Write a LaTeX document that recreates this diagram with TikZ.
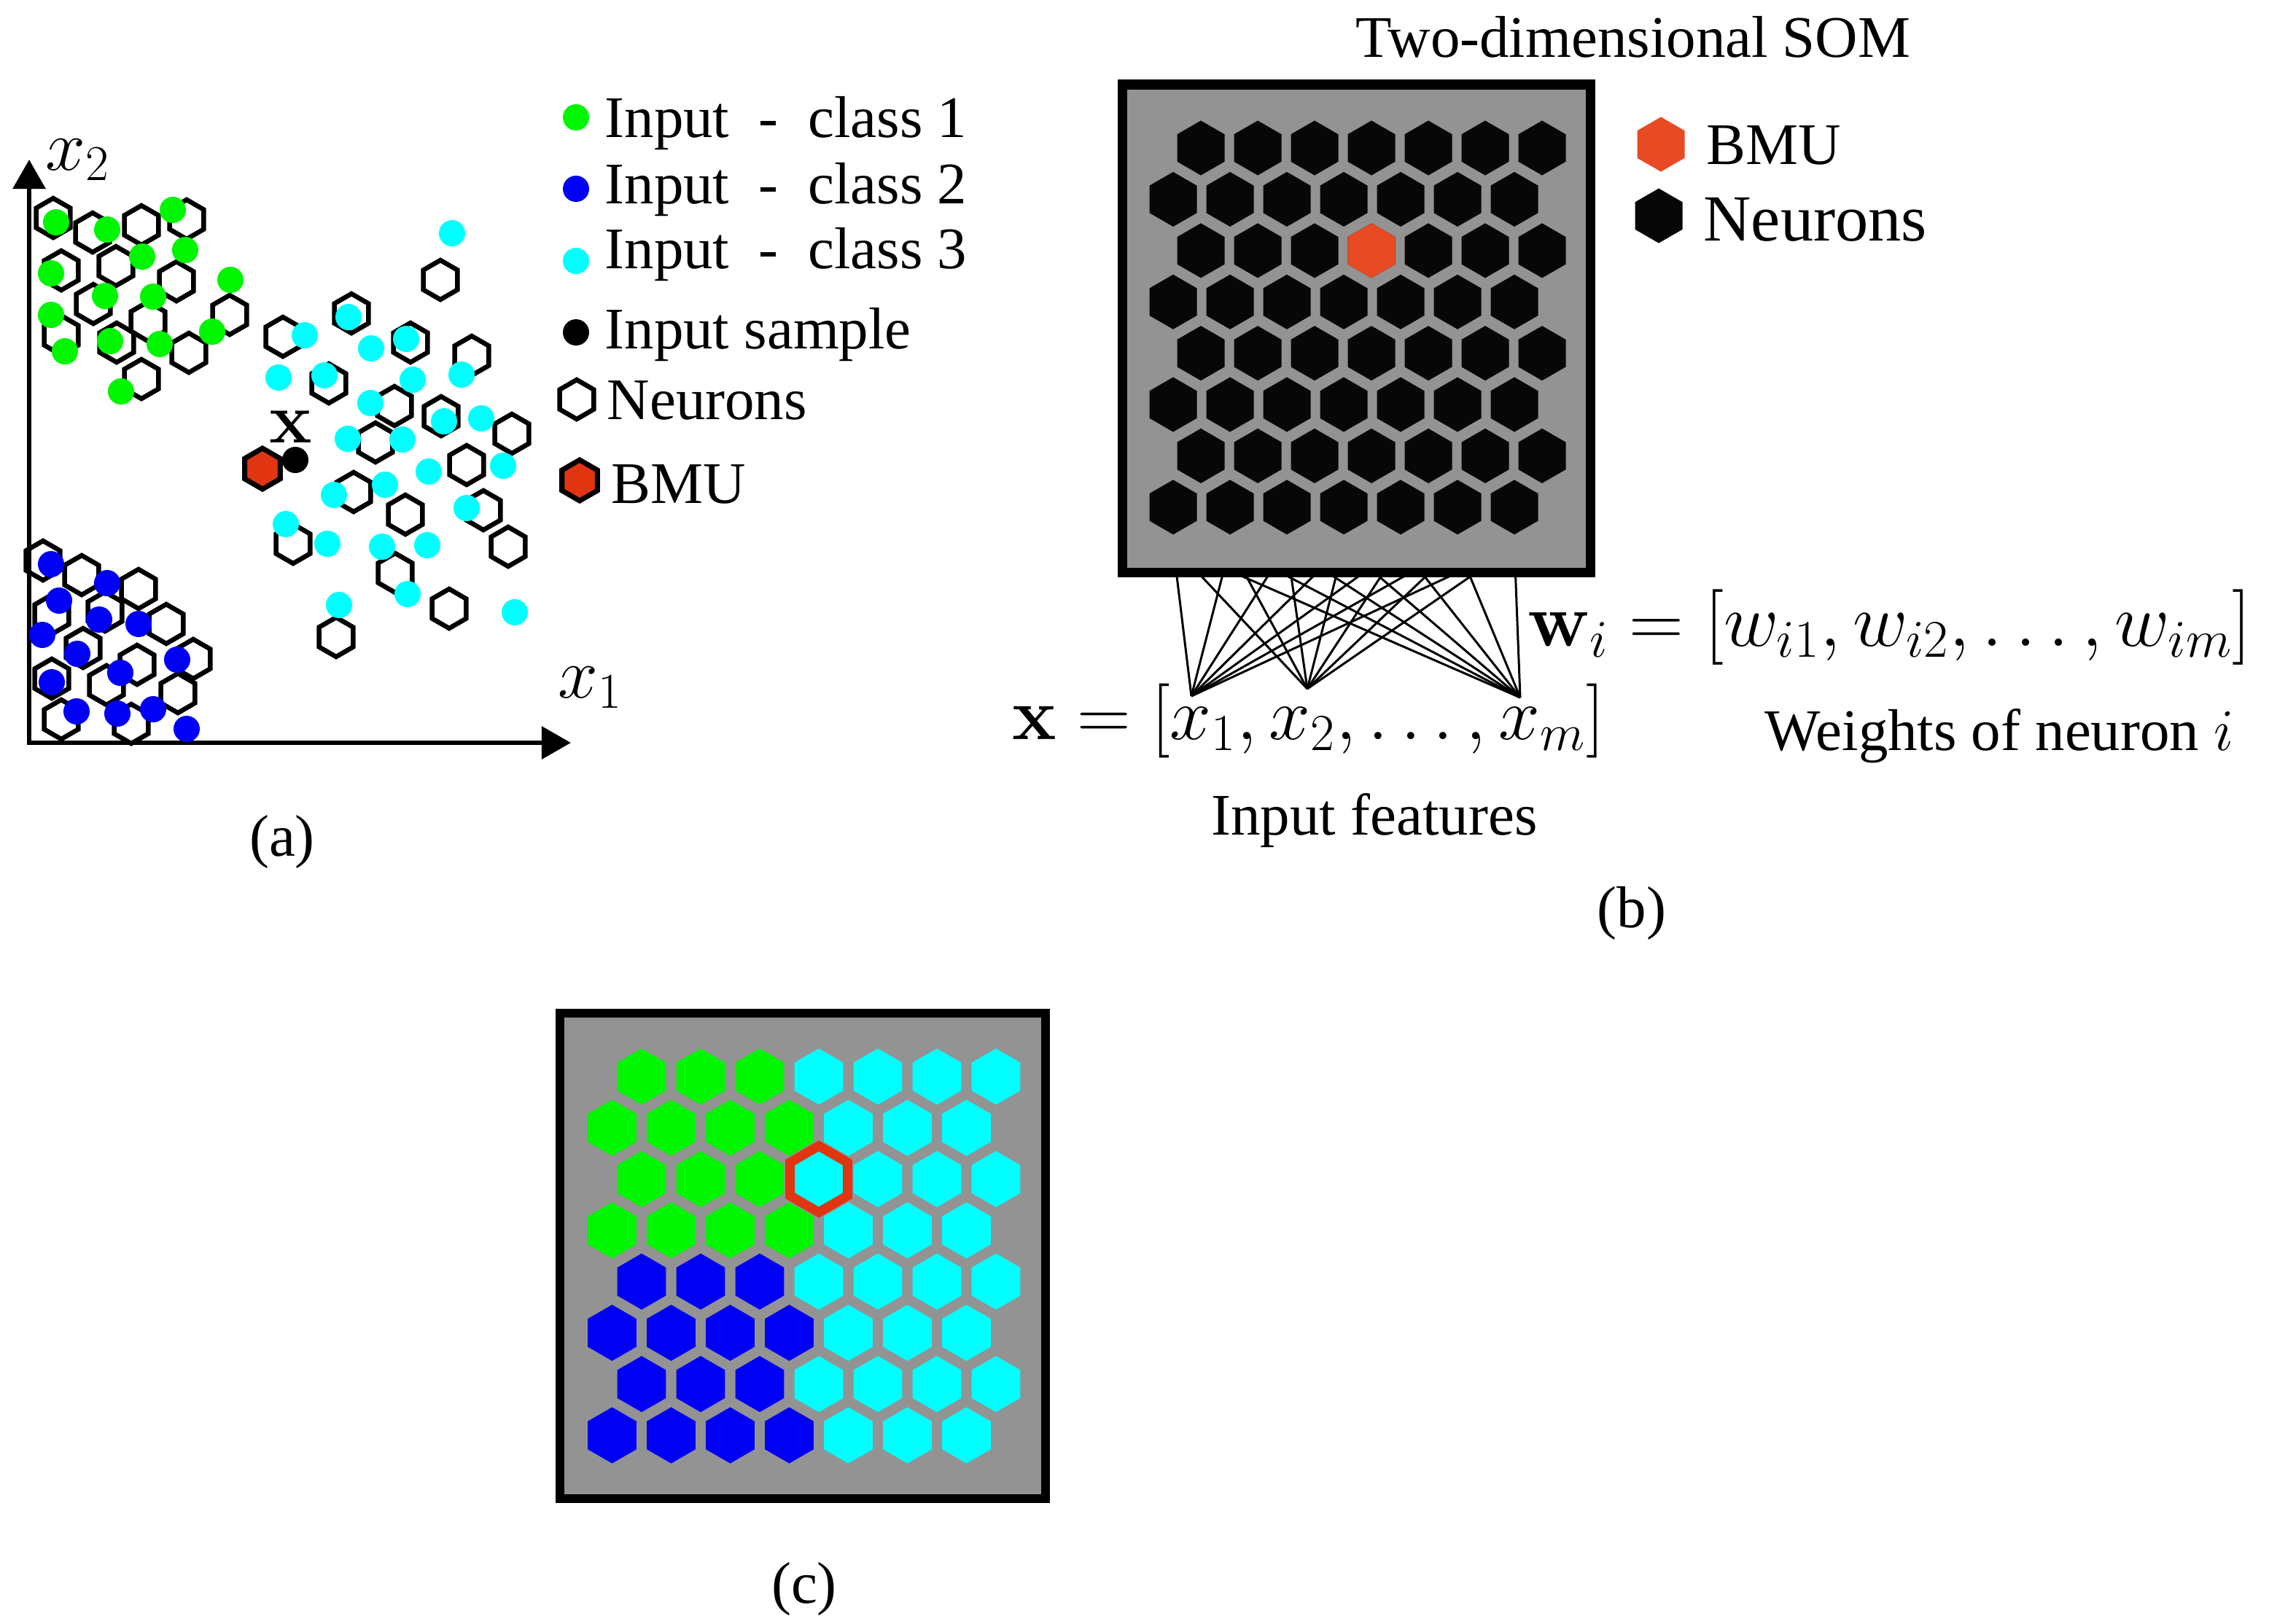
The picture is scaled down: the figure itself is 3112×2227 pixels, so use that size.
\documentclass[tikz,border=0pt]{standalone}
\usepackage{fix-cm}
\usepackage[no-math]{fontspec}
\setmainfont{Liberation Serif}
\usetikzlibrary{shapes.geometric, arrows.meta}

\definecolor{somgray}{RGB}{147,147,147}
\definecolor{somgreen}{RGB}{0,245,0}
\definecolor{somblue}{RGB}{0,0,245}
\definecolor{somcyan}{RGB}{0,255,255}
\definecolor{bmured}{RGB}{224,53,16}
\definecolor{bmuorange}{RGB}{232,74,36}
\definecolor{neuronblack}{RGB}{7,7,7}

\pgfdeclarelayer{wires}
\pgfdeclarelayer{board}
\pgfsetlayers{wires,board,main}

\tikzset{
  txt/.style={font=\fontsize{23}{28}\selectfont, inner sep=0pt, anchor=base west},
  mth/.style={font=\fontsize{28}{34}\selectfont, inner sep=0pt, anchor=base west},
  hex/.style={regular polygon, regular polygon sides=6, shape border rotate=30, inner sep=0pt, outer sep=0pt},
  neuron/.style={hex, draw, line width=0.065cm, minimum size=0.54cm},
  sample/.style={circle, inner sep=0pt, minimum size=0.36cm},
  bneuron/.style={hex, fill=neuronblack, minimum size=0.75cm},
  cneuron/.style={hex, minimum size=0.77cm},
  wire/.style={line width=0.03cm},
  axis/.style={line width=0.06cm, >={Triangle[width=0.44cm,length=0.4cm]}, <->},
}

\begin{document}
\begin{tikzpicture}[x=0.01cm, y=-0.01cm]
\useasboundingbox (0,0) rectangle (3112,2227);

% (a)
\coordinate (orig) at (40,1019);
\coordinate (ytip) at (40,219);
\coordinate (xtip) at (783,1019);
\draw[axis] (ytip) -- (orig) -- (xtip);
\node[mth] (xtwo) at (62,233) {$x_2$};
\node[mth] (xone) at (765,957) {$x_1$};

\foreach \x/\y [count=\i] in {73/299, 127/319, 194/309, 256/301, 84/371, 159/365, 242/386, 128/417, 203/441, 315/432,
    84/460, 160/470, 259/484, 194/520, 604/384, 482/430, 388/462, 563/470, 647/488, 451/526, 541/557, 605/571,
    515/607, 702/595, 640/638, 485/675, 556/706, 663/700, 402/746, 697/750, 542/786, 616/835, 461/874, 59/769,
    112/789, 190/808, 71/843, 144/839, 228/856, 114/889, 188/912, 265/904, 71/931, 146/940, 244/951, 84/987, 180/993}
  \node[neuron] (an\i) at (\x,\y) {};
\foreach \x/\y [count=\i] in {77/305, 147/315, 237/288, 254/343, 195/352, 70/375, 316/384, 144/406, 210/407, 70/432,
    291/455, 151/468, 219/472, 89/482, 166/537}
  \node[sample, fill=somgreen] (ga\i) at (\x,\y) {};
\foreach \x/\y [count=\i] in {620/320, 478/435, 418/460, 509/478, 557/465, 382/518, 445/515, 566/521, 633/514, 508/553,
    609/578, 660/574, 477/602, 552/603, 588/647, 690/639, 528/665, 458/679, 640/697, 392/719, 449/746, 524/750,
    586/748, 559/815, 465/830, 706/840}
  \node[sample, fill=somcyan] (ca\i) at (\x,\y) {};
\foreach \x/\y [count=\i] in {70/774, 147/800, 81/824, 136/850, 190/856, 58/871, 106/897, 243/905, 165/923, 71/936,
    105/976, 161/979, 210/973, 256/1000}
  \node[sample, fill=somblue] (ba\i) at (\x,\y) {};
\node[neuron, fill=bmured, line width=0.07cm, minimum size=0.56cm] (abmu) at (360,643) {};
\node[sample, fill=black] (xsample) at (405,631) {};
\node[mth, anchor=base] (xlbl) at (399,607) {$\mathbf{x}$};

\node[sample, fill=somgreen] (lg1) at (790,161) {};
\node[txt] (lt1) at (829,188) {Input\ \ -\ \ class 1};
\node[sample, fill=somblue] (lg2) at (790,259) {};
\node[txt] (lt2) at (829,279) {Input\ \ -\ \ class 2};
\node[sample, fill=somcyan] (lg3) at (790,358) {};
\node[txt] (lt3) at (829,368) {Input\ \ -\ \ class 3};
\node[sample, fill=black] (lg4) at (790,456) {};
\node[txt] (lt4) at (829,478) {Input sample};
\node[neuron] (lg5) at (791,548) {};
\node[txt] (lt5) at (832,575) {Neurons};
\node[neuron, fill=bmured, line width=0.07cm, minimum size=0.56cm] (lg6) at (795,659) {};
\node[txt] (lt6) at (838,690) {BMU};
\node[txt, anchor=base] (capa) at (387,1174) {(a)};

% (b)
\node[txt, anchor=base] (title) at (2240,78) {Two-dimensional SOM};
\begin{pgfonlayer}{board}
  \draw[line width=0.13cm, fill=somgray] (1539,116) rectangle (2181,785);
\end{pgfonlayer}
\foreach \r in {1,...,8}
  \foreach \c in {1,...,7}
    \node[bneuron] (b\r-\c) at ({1609+78*(\c-1)+38*mod(\r,2)}, {203+70.4*(\r-1)}) {};
\node[bneuron, fill=bmuorange] (bbmu) at (b3-4) {};

\coordinate (inx1) at (1634,955);
\coordinate (inx2) at (1793,945);
\coordinate (inxm) at (2085,957);
\begin{pgfonlayer}{wires}
  \foreach \c in {1,...,7}
    \foreach \p in {inx1,inx2,inxm}
      \draw[wire] ([yshift=-0.16cm]b8-\c.south) -- (\p);
\end{pgfonlayer}

\node[bneuron, fill=bmuorange] (lbbmu) at (2278,198) {};
\node[txt] (lbt1) at (2340,225) {BMU};
\node[bneuron] (lbneu) at (2275,296) {};
\node[txt, font=\fontsize{25.7}{30}\selectfont] (lbt2) at (2336,330) {Neurons};

\node[mth, font=\fontsize{29.5}{35}\selectfont] (wform) at (2095,886) {$\mathbf{w}_i = [w_{i1}, w_{i2}, \ldots, w_{im}]$};
\node[mth, font=\fontsize{29}{35}\selectfont] (xform) at (1388,1014) {$\mathbf{x} = [x_1, x_2, \ldots, x_m]$};
\node[txt, anchor=base] (infeat) at (1885,1145) {Input features};
\node[txt] (weights) at (2420,1029) {Weights of neuron $i$};
\node[txt, anchor=base] (capb) at (2238,1272) {(b)};

% (c)
\begin{pgfonlayer}{board}
  \draw[line width=0.12cm, fill=somgray] (768,1390) rectangle (1434,2056);
\end{pgfonlayer}
\foreach \r/\cl in {1/somgreen,2/somgreen,3/somgreen,4/somgreen,5/somblue,6/somblue,7/somblue,8/somblue}
  \foreach \c in {1,...,7}{
    \pgfmathtruncatemacro\k{3+mod(\r+1,2)}
    \ifnum\c>\k\def\fc{somcyan}\else\edef\fc{\cl}\fi
    \node[cneuron, fill=\fc] (c\r-\c) at ({839.5+81*(\c-1)+40.5*mod(\r,2)}, {1477+70.3*(\r-1)}) {};
  }
\node[cneuron, draw=bmured, line width=0.13cm, minimum size=0.91cm] (cbmu) at (c3-4) {};
\node[txt, anchor=base] (capc) at (1103,2199) {(c)};
\end{tikzpicture}
\end{document}
